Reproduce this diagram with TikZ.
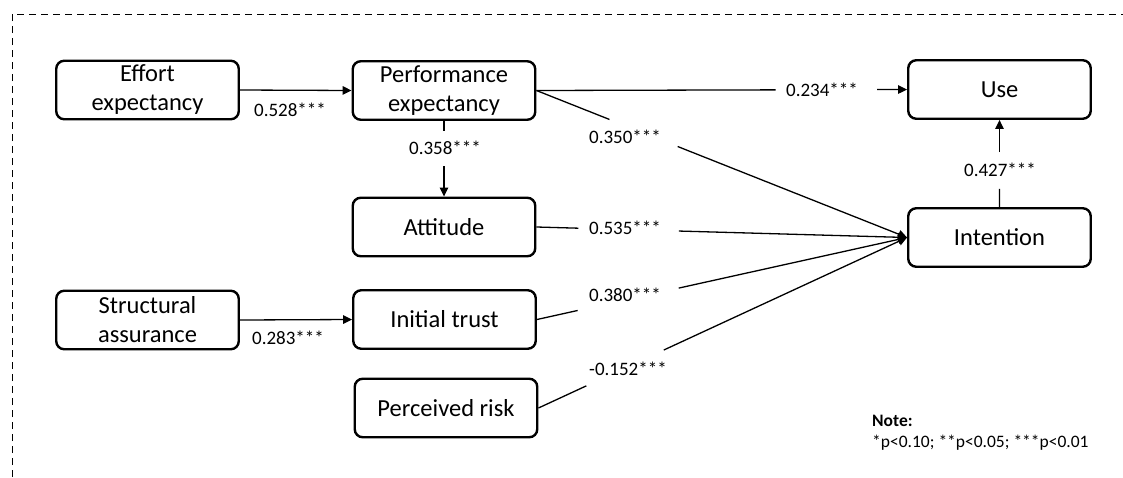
\documentclass[tikz,border=0pt]{standalone}
\usepackage{fontspec}
\setmainfont{Carlito}
\usetikzlibrary{calc,arrows.meta}
\begin{document}
\begin{tikzpicture}[x=1pt,y=-1pt,
  box/.style={draw,line width=2.4pt,rounded corners=8pt,minimum width=182.5pt,minimum height=58.5pt,align=center,font=\fontsize{24.5}{29}\selectfont,inner sep=0pt},
  conn/.style={line width=1.3pt},
  arr/.style={conn,-{Triangle[length=9pt,width=8.5pt]}},
  lbl/.style={font=\fontsize{19}{22}\selectfont,inner sep=0pt},
  notetext/.style={anchor=west,inner sep=0pt,font=\fontsize{17.5}{20}\selectfont}]
\useasboundingbox (0,0) rectangle (1123,477);
\coordinate (bl) at (12,477);
\coordinate (tl) at (12,14);
\coordinate (tr) at (1123,14);
\draw[line width=1pt, dash pattern=on 7pt off 5pt] (bl) -- (tl) -- (tr);

\node[box] (eff) at (147.5,90) {Effort\\expectancy};
\node[box] (perf) at (444,90.5) {Performance\\expectancy};
\node[box] (att) at (444,227) {Attitude};
\node[box] (use) at (999.5,89.5) {Use};
\node[box] (int) at (999.5,237.5) {Intention};
\node[box] (str) at (147.5,320) {Structural\\assurance};
\node[box] (tru) at (444.5,319.5) {Initial trust};
\node[box] (risk) at (446,408) {Perceived risk};

% Effort -> Performance
\draw[arr] (eff.east) -- (perf.west);
\node[lbl] (l1) at (290,110) {0.528***};

% Structural -> Initial trust
\draw[arr] (str.east) -- (tru.west);
\node[lbl] (l2) at (288,338) {0.283***};

% Performance -> Use
\draw[conn] (perf.east) -- ($(perf.east)!0.645!(use.west)$);
\draw[arr] ($(perf.east)!0.919!(use.west)$) -- (use.west);
\node[lbl] (l3) at (822,90) {0.234***};

% Performance -> Attitude
\draw[conn] (perf.south) -- ($(perf.south)!0.13!(att.north)$);
\draw[arr] ($(perf.south)!0.6!(att.north)$) -- (att.north);
\node[lbl] (l4) at (445,148) {0.358***};

% Performance -> Intention
\draw[conn] (perf.east) -- ($(perf.east)!0.197!(int.west)$);
\draw[arr] ($(perf.east)!0.381!(int.west)$) -- (int.west);
\node[lbl] (l5) at (625,137) {0.350***};

% Attitude -> Intention
\draw[conn] (att.east) -- ($(att.east)!0.113!(int.west)$);
\draw[arr] ($(att.east)!0.384!(int.west)$) -- (int.west);
\node[lbl] (l6) at (625,228) {0.535***};

% Initial trust -> Intention
\draw[conn] (tru.east) -- ($(tru.east)!0.11!(int.west)$);
\draw[arr] ($(tru.east)!0.383!(int.west)$) -- (int.west);
\node[lbl] (l7) at (625,295) {0.380***};

% Perceived risk -> Intention
\draw[conn] (risk.east) -- ($(risk.east)!0.13!(int.west)$);
\draw[arr] ($(risk.east)!0.34!(int.west)$) -- (int.west);
\node[lbl] (l8) at (628,369) {-0.152***};

% Intention -> Use
\draw[conn] (int.north) -- ($(int.north)!0.21!(use.south)$);
\draw[arr] ($(int.north)!0.63!(use.south)$) -- (use.south);
\node[lbl] (l9) at (1000,170) {0.427***};

% Note
\node[notetext,font=\bfseries\fontsize{17.5}{20}\selectfont] (note) at (872,421) {Note:};
\node[notetext] (pv) at (872,443) {*p<0.10; **p<0.05; ***p<0.01};
\end{tikzpicture}
\end{document}
